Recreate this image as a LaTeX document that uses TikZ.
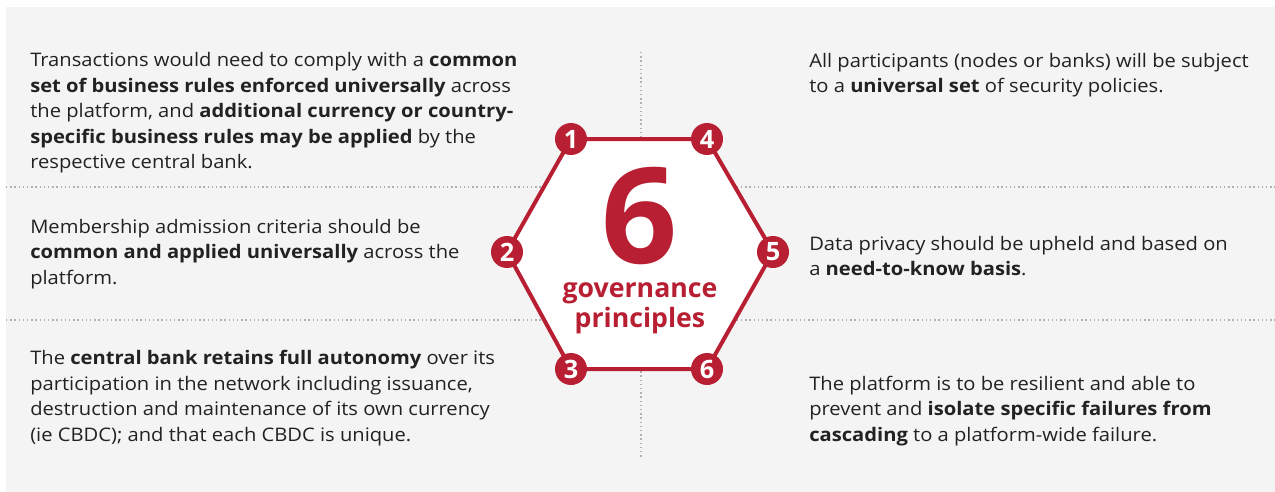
\documentclass[tikz,border=0pt]{standalone}
\usepackage{fontspec}
\setmainfont{Open Sans}[FakeStretch=1.08]
\newfontfamily\hexfont{Open Sans}
\usetikzlibrary{positioning}

\definecolor{bisred}{HTML}{B81F33}
\definecolor{panelgrey}{HTML}{F4F4F4}
\definecolor{bodytext}{HTML}{222222}
\definecolor{rulegrey}{HTML}{B0B0B0}

\begin{document}
\begin{tikzpicture}[x=0.75pt, y=-0.75pt,
	every node/.style={font=\fontsize{14}{19.1}\selectfont, text=bodytext},
	point/.style={align=left, anchor=west, inner sep=0pt},
	badge/.style={circle, fill=bisred, minimum size=24pt, inner sep=0pt,
		font=\hexfont\bfseries\fontsize{19}{19}\selectfont, text=white},
	rule/.style={draw=rulegrey, line width=1.1pt, dash pattern=on 1.1pt off 2.05pt}]
	% Frame
	\useasboundingbox (0,0) rectangle (1275,492);
	\fill[panelgrey] (6,7) rectangle (1275,492);

	% Dotted rules
	\draw[rule] (6,187) -- (1275,187);
	\draw[rule] (6,320) -- (1275,320);
	\draw[rule] (641,52) -- (641,457);

	% Hexagon corners
	\coordinate (p1) at (571,139);
	\coordinate (p4) at (707,139);
	\coordinate (p2) at (507,252);
	\coordinate (p5) at (773,252);
	\coordinate (p3) at (571,369);
	\coordinate (p6) at (707,369);
	\filldraw[fill=white, draw=bisred, line width=3pt, line join=round]
		(p1) -- (p4) -- (p5) -- (p6) -- (p3) -- (p2) -- cycle;

	% Badges
	\foreach \k in {1,...,6}
		\node[badge] (n\k) at (p\k) {\k};

	% Centre title
	\node[inner sep=0pt, text=bisred, font=\hexfont\bfseries\fontsize{100}{100}\selectfont] (six) at (640,216) {6};
	\node[below=13pt of six, inner sep=0pt, align=center, text=bisred,
		font=\hexfont\bfseries\fontsize{20}{22.5}\selectfont] (title) {governance\\principles};

	% Left column
	\node[point] (r1) at (30,113) {Transactions would need to comply with a \textbf{common}\\
		\textbf{set of business rules enforced universally} across\\
		the platform, and \textbf{additional currency or country-}\\
		\textbf{specific business rules may be applied} by the\\
		respective central bank.};
	\node[point] (r2) at (30,254) {Membership admission criteria should be\\
		\textbf{common and applied universally} across the\\
		platform.};
	\node[point] (r3) at (30,398) {The \textbf{central bank retains full autonomy} over its\\
		participation in the network including issuance,\\
		destruction and maintenance of its own currency\\
		(ie CBDC); and that each CBDC is unique.};

	% Right column
	\node[point] (r4) at (809,75) {All participants (nodes or banks) will be subject\\
		to a \textbf{universal set} of security policies.};
	\node[point] (r5) at (809,256) {Data privacy should be upheld and based on\\
		a \textbf{need-to-know basis}.};
	\node[point] (r6) at (809,411) {The platform is to be resilient and able to\\
		prevent and \textbf{isolate specific failures from}\\
		\textbf{cascading} to a platform-wide failure.};
\end{tikzpicture}
\end{document}
